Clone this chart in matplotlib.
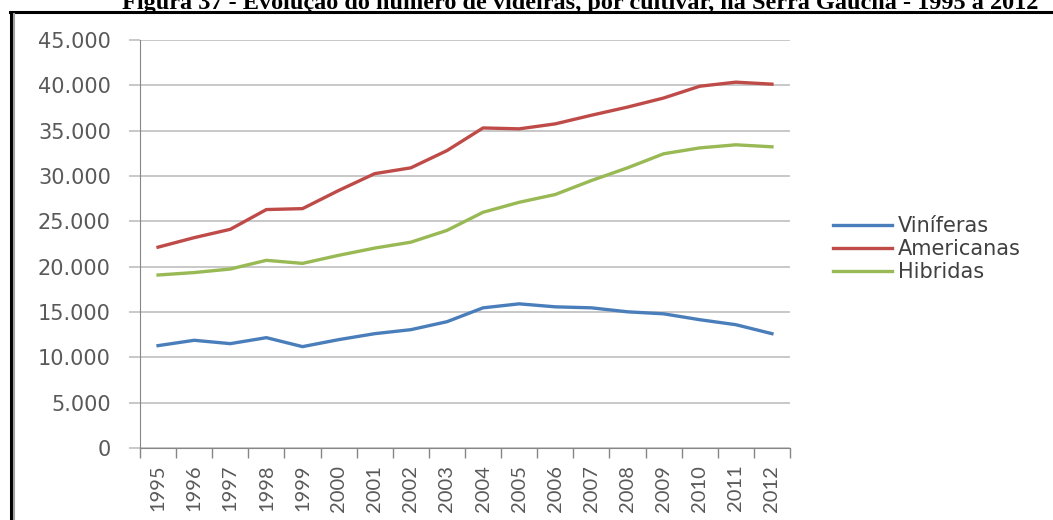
import numpy as np
import matplotlib.pyplot as plt
from matplotlib.lines import Line2D
from matplotlib.ticker import FuncFormatter

anos = [1995, 1996, 1997, 1998, 1999, 2000, 2001, 2002, 2003,
        2004, 2005, 2006, 2007, 2008, 2009, 2010, 2011, 2012]

viniferas = [11290, 11880, 11510, 12170, 11180, 11950, 12610, 13050, 13930,
             15460, 15900, 15570, 15460, 15020, 14800, 14150, 13600, 12610]
americanas = [22150, 23200, 24120, 26300, 26400, 28400, 30260, 30900, 32800,
              35300, 35200, 35750, 36700, 37600, 38600, 39900, 40350, 40130]
hibridas = [19080, 19350, 19740, 20700, 20360, 21250, 22050, 22700, 24000,
            26000, 27100, 27960, 29500, 30900, 32450, 33100, 33440, 33220]

titulo = 'Figura 37 - Evolução do número de videiras, por cultivar, na Serra Gaúcha - 1995 a 2012'

cor_texto = '#595959'

fig = plt.figure(figsize=(10.53, 5.20), dpi=100)
W, H = 1053, 520
ax = fig.add_axes([140 / W, 1 - 448 / H, 650 / W, 408 / H])

x = np.arange(len(anos))
ax.plot(x, viniferas, color='#4A7EBB', lw=2.4, label='Viníferas', solid_joinstyle='round')
ax.plot(x, americanas, color='#BE4B48', lw=2.4, label='Americanas', solid_joinstyle='round')
ax.plot(x, hibridas, color='#98B954', lw=2.4, label='Hibridas', solid_joinstyle='round')

ax.set_xlim(-0.5, len(anos) - 0.5)
ax.set_ylim(0, 45000)
ax.set_yticks(np.arange(0, 45001, 5000))
ax.yaxis.set_major_formatter(FuncFormatter(lambda v, p: f'{int(v):,}'.replace(',', '.')))
ax.grid(axis='y', color='#BFBFBF', lw=1.2)
ax.set_axisbelow(True)

# anos no centro, marcas entre as categorias
ax.set_xticks(x)
ax.set_xticklabels([str(a) for a in anos], rotation=90)
ax.set_xticks(np.arange(-0.5, len(anos)), minor=True)
ax.tick_params(axis='x', which='major', length=0, pad=12, labelsize=14.5, labelcolor=cor_texto)
ax.tick_params(axis='x', which='minor', length=7, color='#868686', width=1)
ax.tick_params(axis='y', length=8, color='#BFBFBF', width=1.2, pad=13,
               labelsize=15, labelcolor=cor_texto)

for t in ax.get_xticklabels():
    t.set_fontfamily('Lato')
for t in ax.get_yticklabels():
    t.set_fontfamily('DejaVu Sans')

for lado in ['top', 'right']:
    ax.spines[lado].set_visible(False)
ax.spines['left'].set_color('#868686')
ax.spines['bottom'].set_color('#868686')

leg = ax.legend(loc='center left', bbox_to_anchor=((833 - 140) / 650, (448 - 249) / 408),
                frameon=False, borderpad=0, borderaxespad=0,
                handlelength=2.85, handletextpad=0.25, labelspacing=0.15,
                prop={'family': 'DejaVu Sans', 'size': 15})
for t in leg.get_texts():
    t.set_color('#404040')

# moldura da figura
fig.add_artist(Line2D([10 / W, 1], [1 - 12 / H, 1 - 12 / H], color='black', lw=2.2))
fig.add_artist(Line2D([11 / W, 11 / W], [0, 1 - 12 / H], color='black', lw=2.2))
fig.add_artist(Line2D([14 / W, 14 / W], [0, 1 - 14 / H], color='#A0A0A0', lw=1.5))

fig.text(580 / W, 1 - 9 / H, titulo, ha='center', va='baseline', fontsize=17.5,
         fontweight='bold', family='Liberation Serif')

fig.savefig('out.png', dpi=100)
